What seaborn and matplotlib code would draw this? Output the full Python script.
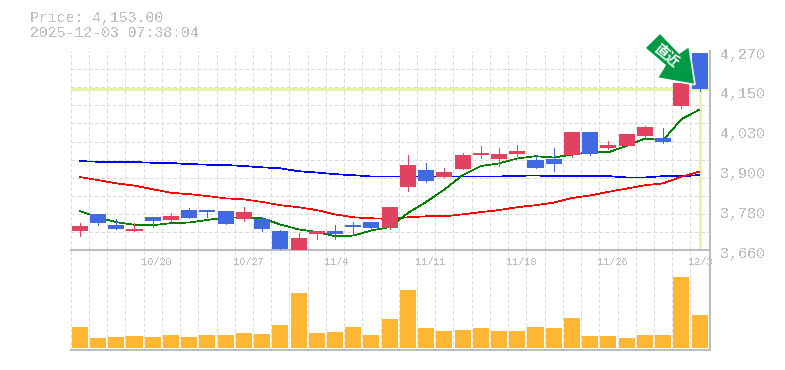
import matplotlib
matplotlib.use('Agg')
import matplotlib.pyplot as plt
import matplotlib.transforms as mtrans
from matplotlib.patches import Polygon
import numpy as np
import pandas as pd
import seaborn as sns

# Donnees
opens = [3718, 3770, 3737, 3718, 3761, 3752, 3783, 3783, 3780, 3755, 3755, 3718, 3660, 3709, 3718, 3737, 3746, 3727,
         3853, 3905, 3884, 3908, 3951, 3939, 3954, 3936, 3939, 3951, 4022, 3973, 3979, 4009, 4003, 4101, 4264]
closes = [3734, 3743, 3724, 3724, 3749, 3764, 3758, 3776, 3740, 3776, 3724, 3663, 3697, 3718, 3709, 3731, 3727, 3792,
          3921, 3872, 3899, 3951, 3957, 3954, 3963, 3911, 3924, 4022, 3954, 3982, 4016, 4037, 3991, 4172, 4153]
highs = [3743, 3770, 3755, 3743, 3761, 3773, 3789, 3783, 3780, 3792, 3761, 3721, 3712, 3718, 3737, 3746, 3746, 3792,
         3951, 3927, 3911, 3957, 3979, 3973, 3982, 3951, 3973, 4022, 4022, 3994, 4016, 4040, 4034, 4172, 4264]
lows = [3703, 3737, 3724, 3718, 3731, 3749, 3758, 3761, 3740, 3749, 3718, 3663, 3660, 3694, 3694, 3706, 3724, 3724,
        3841, 3868, 3884, 3908, 3942, 3918, 3948, 3911, 3902, 3945, 3951, 3970, 3979, 4000, 3988, 4095, 4147]
ma_short = [3780, 3761, 3746, 3738, 3737, 3743, 3745, 3753, 3760, 3760, 3758, 3739, 3724, 3716, 3703, 3705, 3721, 3731,
            3774, 3808, 3846, 3890, 3918, 3926, 3941, 3948, 3944, 3953, 3960, 3960, 3980, 4002, 3997, 4061, 4091]
ma_mid = [3884, 3875, 3865, 3858, 3847, 3836, 3832, 3826, 3819, 3816, 3808, 3798, 3792, 3783, 3770, 3761, 3758, 3756,
          3761, 3764, 3764, 3770, 3777, 3783, 3792, 3798, 3806, 3820, 3828, 3839, 3849, 3859, 3865, 3885, 3901]
ma_long = [3933, 3931, 3930, 3930, 3928, 3927, 3924, 3922, 3921, 3918, 3914, 3911, 3902, 3898, 3893, 3890, 3886, 3886,
           3886, 3886, 3886, 3886, 3886, 3886, 3888, 3889, 3887, 3887, 3887, 3887, 3883, 3883, 3887, 3887, 3890]
volumes = [21, 10, 11, 12, 11, 13, 11, 13, 13, 15, 14, 23, 55, 15, 16, 21, 13, 29, 58, 20, 17, 18, 20, 17, 17, 21, 20,
           30, 12, 12, 10, 13, 13, 71, 33]
last_price = 4153
date_pos = [4, 9, 14, 19, 24, 29, 34]
date_labels = ['10/20', '10/27', '11/4', '11/11', '11/18', '11/26', '12/3']
price_ticks = [4270, 4148, 4026, 3904, 3782, 3660]
price_labels = ['4,270', '4,150', '4,030', '3,900', '3,780', '3,660']

W, H = 785, 370
GRAY = '#bdbdbd'
GRID = '#dcdcdc'
RED = '#e0425f'
BLUE = '#4169e1'
YELLOW = '#e4f5a8'
PX = 0.72  # 1 pixel en points

sns.set_style('white')
plt.rcParams['font.family'] = ['Liberation Mono', 'DejaVu Sans Mono']
plt.rcParams['text.antialiased'] = False

df = pd.DataFrame({'idx': np.arange(len(opens)), 'open': opens, 'close': closes, 'high': highs, 'low': lows,
                   'ma_short': ma_short, 'ma_mid': ma_mid, 'ma_long': ma_long, 'volume': volumes})

fig = plt.figure(figsize=(W / 100, H / 100), dpi=100)
left, right = 70.7, 710.5
ax = fig.add_axes([left / W, 1 - 250.3 / H, (right - left) / W, 199.3 / H])
ax_vol = fig.add_axes([left / W, 1 - 350.3 / H, (right - left) / W, 100 / H])


def style_axis(axis):
    for side in ['top', 'left']:
        axis.spines[side].set_visible(False)
    for side in ['bottom', 'right']:
        axis.spines[side].set_color(GRAY)
        axis.spines[side].set_linewidth(2 * PX)
    axis.set_xlim(-0.5, 34.6)
    axis.set_xticks(np.arange(-0.5, 35), minor=True)
    axis.grid(True, which='minor', axis='x', color=GRID, linewidth=PX, linestyle=(0, (3, 2.5)), antialiased=False)
    axis.tick_params(which='both', length=0)
    axis.set_axisbelow(True)
    axis.set_xlabel('')
    axis.set_ylabel('')
    for tick in axis.xaxis.get_minor_ticks():
        tick.gridline.set_clip_on(False)


# Prix
ax.axhline(last_price, color=YELLOW, linewidth=3 * PX, zorder=1.5)
ax.vlines(df['idx'].iloc[-1], 3665, last_price, color=YELLOW, linewidth=3 * PX, zorder=1.5)

for col, color in [('ma_long', '#0000ff'), ('ma_mid', '#ff0000'), ('ma_short', '#008000')]:
    sns.lineplot(data=df, x='idx', y=col, color=color, linewidth=0.5, ax=ax, zorder=2, antialiased=False)

colors = [RED if c > o else BLUE for o, c in zip(df['open'], df['close'])]
ax.vlines(df['idx'], df['low'], df['high'], colors=colors, linewidth=PX, zorder=3, antialiased=False)
ax.bar(df['idx'], df['close'] - df['open'], bottom=df['open'], width=0.88, color=colors, linewidth=0, zorder=3,
       antialiased=False)

ax.set_ylim(3660, 4270)
style_axis(ax)
ax.set_yticks(np.linspace(3660, 4270, 12), minor=True)
ax.grid(True, which='minor', axis='y', color=GRID, linewidth=PX, linestyle=(0, (3, 2.5)), antialiased=False)
for tick in ax.yaxis.get_minor_ticks():
    tick.gridline.set_clip_on(False)
ax.yaxis.tick_right()
ax.set_yticks(price_ticks, price_labels)
ax.tick_params(axis='y', which='major', labelsize=10.8, labelcolor=GRAY, pad=7)
ax.set_xticks(date_pos, date_labels)
ax.tick_params(axis='x', which='major', labelsize=7.4, labelcolor=GRAY, pad=5)
shift_x = mtrans.ScaledTranslation(-11 / 100, 0, fig.dpi_scale_trans)
for lab in ax.get_xticklabels():
    lab.set_ha('left')
    lab.set_transform(lab.get_transform() + shift_x)
shift_y = mtrans.ScaledTranslation(0, -2 / 100, fig.dpi_scale_trans)
for lab in ax.get_yticklabels():
    lab.set_transform(lab.get_transform() + shift_y)

# Volumes
sns.barplot(data=df, x='idx', y='volume', color='#ffb733', saturation=1, width=0.88, native_scale=True, ax=ax_vol,
            linewidth=0, zorder=2)
ax_vol.set_ylim(-2.3, 97.7)
ax_vol.set_yticks([])
ax_vol.set_xticks([])
style_axis(ax_vol)
ax_vol.patch.set_alpha(0)
ax.set_zorder(ax_vol.get_zorder() + 1)
ax.patch.set_alpha(0)

# Prix courant et horodatage
fig.text(30 / W, 1 - 18 / H, 'Price: 4,153.00', color=GRAY, fontsize=10.75, va='center')
fig.text(30 / W, 1 - 33 / H, '2025-12-03 07:38:04', color=GRAY, fontsize=10.75, va='center')

# Fleche du dernier cours
arrow_px = [(660, 33), (679.3, 53), (689, 46.3), (695, 84.7), (657.3, 78), (665, 65.3), (644.7, 48)]
arrow_xy = [(x / W, 1 - y / H) for x, y in arrow_px]
fig.add_artist(Polygon(arrow_xy, closed=True, transform=fig.transFigure, facecolor='#009944', edgecolor='white',
                       linewidth=1.2, zorder=10))
fig.text(666.5 / W, 1 - 56 / H, '直近', color='white', fontsize=10, fontweight='bold', rotation=-40,
         rotation_mode='anchor', ha='center', va='center', family=['Noto Sans CJK JP', 'DejaVu Sans'], zorder=11,
         antialiased=True)

fig.savefig('out.png', dpi=100)
